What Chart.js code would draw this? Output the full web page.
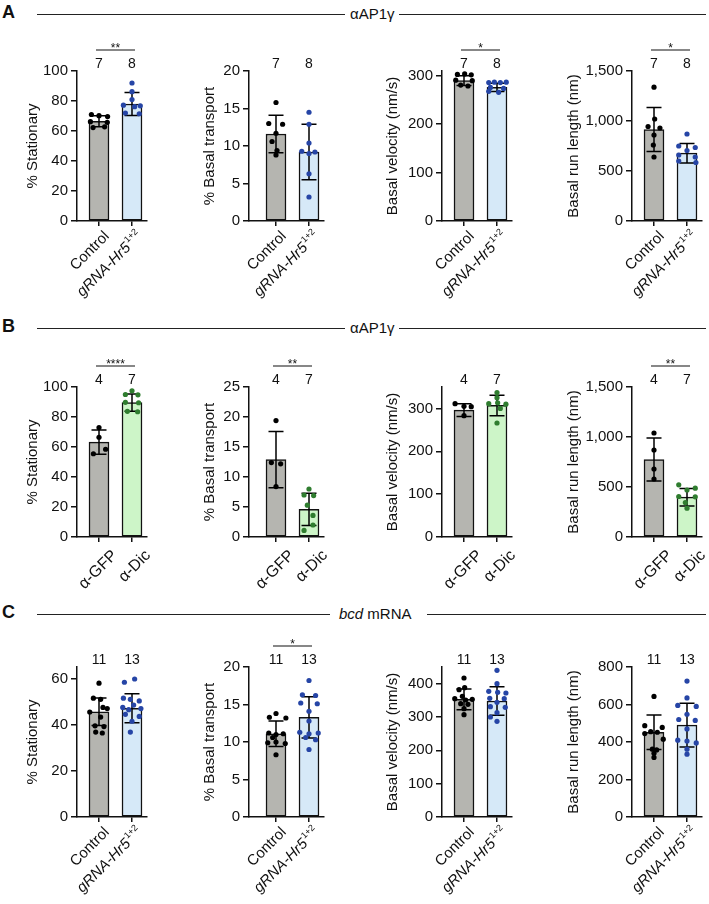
<!DOCTYPE html>
<html>
<head>
<meta charset="utf-8">
<script src="https://cdn.jsdelivr.net/npm/chart.js@4.4.1/dist/chart.umd.min.js"></script>
<style>
  body { margin: 0; width: 709px; height: 904px; position: relative; overflow: hidden; background: #fff;
         font-family: Arial, "Liberation Sans", Helvetica, sans-serif; color: #111; }
  canvas { position: absolute; }
  .letter { position: absolute; left: 2px; font-weight: bold; font-size: 18px; line-height: 20px; }
  .rule { position: absolute; height: 0; border-top: 1.4px solid #222; }
  .head { position: absolute; font-size: 15px; line-height: 18px; white-space: nowrap; }
</style>
</head>
<body>
<div class="letter" style="top:2px">A</div>
<div class="rule" style="left:37px;width:308px;top:14px"></div>
<div class="head" style="left:350px;top:5px">αAP1γ</div>
<div class="rule" style="left:399px;width:307px;top:14px"></div>

<div class="letter" style="top:316px">B</div>
<div class="rule" style="left:37px;width:308px;top:328px"></div>
<div class="head" style="left:350px;top:319px">αAP1γ</div>
<div class="rule" style="left:399px;width:307px;top:328px"></div>

<div class="letter" style="top:602px">C</div>
<div class="rule" style="left:37px;width:293px;top:614px"></div>
<div class="head" style="left:339px;top:605px"><i>bcd</i> mRNA</div>
<div class="rule" style="left:427px;width:279px;top:614px"></div>

<script>
// group labels and n per group
const geneLabels = ['Control', 'gRNA-Hr5'];
const geneSup = ['', '1+2'];
const abLabels = ['α-GFP', 'α-Dic'];
const abSup = ['', ''];
const nA = [7, 8];
const nB = [4, 7];
const nC = [11, 13];
const yTitles = ['% Stationary', '% Basal transport', 'Basal velocity (nm/s)', 'Basal run length (nm)'];

// y axis ticks
const ticksPct = [0, 20, 40, 60, 80, 100];
const ticksPctC = [0, 20, 40, 60];
const ticksBasal = [0, 5, 10, 15, 20];
const ticksBasalB = [0, 5, 10, 15, 20, 25];
const ticksVel = [0, 100, 200, 300];
const ticksVelC = [0, 100, 200, 300, 400];
const ticksRun = [0, 500, 1000, 1500];
const ticksRunC = [0, 200, 400, 600, 800];

// significance marks
const sigA = ['**', '', '*', '*'];
const sigB = ['****', '**', '', '**'];
const sigC = ['', '*', '', ''];

// mean / SD per group, points as [jitter, value]
const meanA1 = [66.5, 78], sdA1 = [3.6, 7.7];
const ptsA1c = [[-0.23, 71], [0.0, 70.2], [0.26, 69.6], [-0.26, 66.2], [0.25, 65.8], [-0.18, 62.3], [0.17, 62.8]];
const ptsA1t = [[0, 92], [0, 86.2], [0, 81], [-0.26, 77.2], [0.25, 76.8], [0.08, 76.2], [-0.2, 72], [0.22, 71.5]];

const meanA2 = [11.6, 9.2], sdA2 = [2.5, 3.7];
const ptsA2c = [[0, 15.8], [-0.22, 13], [0.2, 12.9], [0, 11.7], [-0.12, 10.6], [0.03, 9.4], [0, 8.8]];
const ptsA2t = [[0, 14.5], [0, 12.9], [0, 10.4], [-0.22, 9.3], [0.18, 9.2], [0, 9.0], [0, 6.3], [0, 3.2]];

const meanA3 = [290, 276], sdA3 = [10, 8.5];
const ptsA3c = [[-0.2, 303], [0.02, 304], [0.22, 302], [-0.25, 291], [0.25, 290], [-0.1, 281], [0.12, 279]];
const ptsA3t = [[-0.25, 286], [-0.08, 287], [0.1, 286], [0.28, 287], [-0.2, 276], [0.2, 274], [-0.25, 268], [0.05, 266]];

const meanA4 = [915, 678], sdA4 = [220, 97];
const ptsA4c = [[0, 1338], [0.02, 1020], [-0.18, 945], [0.18, 930], [0, 860], [-0.02, 760], [0, 640]];
const ptsA4t = [[0, 870], [-0.25, 750], [0.25, 735], [0, 705], [-0.25, 660], [0.25, 640], [-0.25, 600], [0.27, 585]];

const meanB1 = [63.2, 89.6], sdB1 = [8.1, 5.7];
const ptsB1c = [[0, 73], [0, 66.5], [0.2, 58.5], [-0.17, 55.5]];
const ptsB1t = [[0, 97.5], [-0.2, 95], [0.18, 94.8], [-0.2, 89.8], [0.2, 89.5], [-0.14, 83.8], [0.17, 83.5]];

const meanB2 = [12.9, 4.6], sdB2 = [4.7, 2.7];
const ptsB2c = [[0, 19.4], [-0.14, 12.4], [0.14, 12.2], [0, 8.4]];
const ptsB2t = [[0, 8], [-0.15, 7], [0.14, 6.9], [-0.05, 5.3], [0.12, 3.6], [0.12, 2.0], [-0.15, 1.1]];

const meanB3 = [296, 307], sdB3 = [15, 24];
const ptsB3c = [[-0.27, 311], [0, 305], [0.22, 304], [0, 283]];
const ptsB3t = [[0, 337], [0, 325], [-0.25, 311], [0.02, 313], [0.27, 310], [0.1, 300], [0, 266]];

const meanB4 = [775, 398], sdB4 = [215, 88];
const ptsB4c = [[0, 1040], [0, 870], [0, 680], [0, 580]];
const ptsB4t = [[-0.25, 522], [0.25, 488], [0, 470], [-0.25, 405], [0.25, 402], [-0.05, 345], [0, 288]];

const meanC1 = [45.6, 47.1], sdC1 = [6, 6.3];
const ptsC1c = [[0, 58], [-0.17, 51.5], [0.05, 51], [0.12, 47.5], [0.25, 47], [-0.28, 45.5], [0.05, 43.3], [-0.12, 39.5], [0.15, 39.2], [-0.1, 36.8], [0.1, 36.4]];
const ptsC1t = [[0.08, 59.8], [-0.23, 58.4], [-0.26, 51.5], [-0.05, 51], [0.22, 50.3], [0.05, 48.5], [-0.28, 47.5], [0.27, 47], [-0.1, 46.5], [-0.2, 44.5], [0.22, 43.6], [0, 41.5], [-0.05, 36.8]];

const meanC2 = [11.1, 13.3], sdC2 = [1.7, 2.75];
const ptsC2c = [[0, 13.8], [-0.2, 13.3], [0.3, 13.2], [-0.22, 11.2], [0, 11.0], [0.22, 11.1], [-0.25, 9.9], [0, 10.0], [0.28, 9.8], [0, 8.3], [-0.1, 10.6]];
const ptsC2t = [[0, 18.2], [-0.2, 16.3], [0.2, 16.2], [-0.25, 15.2], [0.25, 15.1], [0, 14.1], [0, 12.8], [-0.28, 11.3], [0.28, 11.2], [0, 11.1], [-0.1, 10.6], [0.2, 10.3], [0, 9.0]];

const meanC3 = [353, 348], sdC3 = [31, 43];
const ptsC3c = [[0, 417], [0.02, 388], [-0.15, 382], [-0.05, 362], [-0.28, 355], [0.25, 353], [0.05, 351], [-0.1, 340], [0.12, 338], [0, 325], [0, 307]];
const ptsC3t = [[0, 440], [0, 400], [-0.25, 377], [0.02, 374], [0.27, 372], [-0.22, 356], [0.22, 355], [0, 344], [-0.2, 331], [0.25, 329], [0, 313], [-0.2, 300], [0, 287]];

const meanC4 = [452, 490], sdC4 = [92, 117];
const ptsC4c = [[0, 643], [-0.28, 487], [0.25, 478], [-0.1, 455], [0.1, 452], [-0.28, 445], [0.28, 415], [-0.05, 362], [0.08, 358], [0, 340], [0, 318]];
const ptsC4t = [[0, 725], [0, 635], [-0.28, 595], [0.28, 590], [0, 548], [-0.25, 520], [0.25, 515], [0, 470], [-0.28, 410], [0, 405], [0.28, 395], [0, 362], [0, 335]];

// colours
const GRAY = '#b5b5b0';
const BLUE_BAR = '#d6e9f8', BLUE_DOT = '#2645a6';
const GREEN_BAR = '#cdf5c8', GREEN_DOT = '#2f7d2f';
const FONT = 'Arial, "Liberation Sans", Helvetica, sans-serif';

// [y-axis x, first bar centre, distance of y title from axis]
const colPos = [[77, 99, 44], [249, 276, 39], [442, 464, 49], [632, 654, 58]];

const panels = [
  { top: 71, n: nA, labels: geneLabels, sups: geneSup, sig: sigA, tint: BLUE_BAR, dot: BLUE_DOT,
    shiftX: 8, shiftY: 13, labelSize: 15,
    charts: [
      { mean: meanA1, sd: sdA1, c: ptsA1c, t: ptsA1t, max: 100, ticks: ticksPct },
      { mean: meanA2, sd: sdA2, c: ptsA2c, t: ptsA2t, max: 20, ticks: ticksBasal },
      { mean: meanA3, sd: sdA3, c: ptsA3c, t: ptsA3t, max: 310, ticks: ticksVel },
      { mean: meanA4, sd: sdA4, c: ptsA4c, t: ptsA4t, max: 1500, ticks: ticksRun }
    ] },
  { top: 387, n: nB, labels: abLabels, sups: abSup, sig: sigB, tint: GREEN_BAR, dot: GREEN_DOT,
    shiftX: 16, shiftY: 16, labelSize: 16,
    charts: [
      { mean: meanB1, sd: sdB1, c: ptsB1c, t: ptsB1t, max: 100, ticks: ticksPct },
      { mean: meanB2, sd: sdB2, c: ptsB2c, t: ptsB2t, max: 25, ticks: ticksBasalB },
      { mean: meanB3, sd: sdB3, c: ptsB3c, t: ptsB3t, max: 350, ticks: ticksVel },
      { mean: meanB4, sd: sdB4, c: ptsB4c, t: ptsB4t, max: 1500, ticks: ticksRun }
    ] },
  { top: 667, n: nC, labels: geneLabels, sups: geneSup, sig: sigC, tint: BLUE_BAR, dot: BLUE_DOT,
    shiftX: 8, shiftY: 13, labelSize: 15,
    charts: [
      { mean: meanC1, sd: sdC1, c: ptsC1c, t: ptsC1t, max: 65, ticks: ticksPctC },
      { mean: meanC2, sd: sdC2, c: ptsC2c, t: ptsC2t, max: 20, ticks: ticksBasal },
      { mean: meanC3, sd: sdC3, c: ptsC3c, t: ptsC3t, max: 450, ticks: ticksVelC },
      { mean: meanC4, sd: sdC4, c: ptsC4c, t: ptsC4t, max: 800, ticks: ticksRunC }
    ] }
];

const UNIT = 33, PAD_TOP = 45, AXIS_H = 150, XAXIS_H = 80, YAXIS_W = 75, PAD_R = 8;

function drawChart(panel, spec, col) {
  const [axisX, c0, titleDist] = colPos[col];
  const widthPx = c0 + UNIT + 15 - axisX;
  const xMin = -(c0 - axisX) / UNIT;
  const xMax = xMin + widthPx / UNIT;

  const cv = document.createElement('canvas');
  cv.width = YAXIS_W + widthPx + PAD_R;
  cv.height = PAD_TOP + AXIS_H + XAXIS_H;
  cv.style.left = (axisX - YAXIS_W) + 'px';
  cv.style.top = (panel.top - PAD_TOP) + 'px';
  document.body.appendChild(cv);

  const pts = spec.c.map(p => ({ x: p[0], y: p[1] }))
    .concat(spec.t.map(p => ({ x: 1 + p[0], y: p[1] })));
  const dotColors = spec.c.map(() => '#000').concat(spec.t.map(() => panel.dot));

  const marks = {
    id: 'marks',
    afterDatasetDraw(chart, args) {
      if (args.index !== 1) return; // error bars after the bars, under the dots
      const ctx = chart.ctx, xs = chart.scales.x, ys = chart.scales.y;
      ctx.save();
      ctx.strokeStyle = '#000';
      ctx.lineWidth = 1.5;
      spec.mean.forEach((m, i) => {
        const px = xs.getPixelForValue(i);
        const hi = ys.getPixelForValue(m + spec.sd[i]);
        const lo = ys.getPixelForValue(Math.max(0, m - spec.sd[i]));
        ctx.beginPath();
        ctx.moveTo(px, hi); ctx.lineTo(px, lo);
        ctx.moveTo(px - 7.5, hi); ctx.lineTo(px + 7.5, hi);
        ctx.moveTo(px - 7.5, lo); ctx.lineTo(px + 7.5, lo);
        ctx.stroke();
      });
      ctx.restore();
    },
    afterDraw(chart) {
      const ctx = chart.ctx, xs = chart.scales.x, area = chart.chartArea;
      const x0 = xs.getPixelForValue(0), x1 = xs.getPixelForValue(1);
      ctx.save();
      ctx.fillStyle = '#111';
      // n per group
      ctx.font = '14px ' + FONT;
      ctx.textAlign = 'center';
      ctx.textBaseline = 'middle';
      panel.n.forEach((n, i) => ctx.fillText(String(n), xs.getPixelForValue(i), area.top - 7));
      // significance bracket
      const sig = panel.sig[col];
      if (sig) {
        const by = area.top - 21;
        ctx.strokeStyle = '#111';
        ctx.lineWidth = 1.2;
        ctx.beginPath();
        ctx.moveTo(x0 - 3, by); ctx.lineTo(x1 + 3, by);
        ctx.stroke();
        ctx.font = '12px ' + FONT;
        ctx.textBaseline = 'alphabetic';
        ctx.fillText(sig, (x0 + x1) / 2, by + 2);
      }
      // rotated group labels
      const fs = panel.labelSize;
      panel.labels.forEach((lab, i) => {
        const sup = panel.sups[i];
        ctx.save();
        ctx.translate(xs.getPixelForValue(i) + panel.shiftX, area.bottom + panel.shiftY);
        ctx.rotate(-Math.PI / 4);
        ctx.textBaseline = 'middle';
        if (sup) {
          ctx.font = 'italic ' + fs + 'px ' + FONT;
          const wm = ctx.measureText(lab).width;
          ctx.font = '9px ' + FONT;
          const ws = ctx.measureText(sup).width;
          ctx.textAlign = 'left';
          ctx.font = 'italic ' + fs + 'px ' + FONT;
          ctx.fillText(lab, -wm - ws - 1, 0);
          ctx.font = '9px ' + FONT;
          ctx.fillText(sup, -ws, -5);
        } else {
          ctx.font = fs + 'px ' + FONT;
          ctx.textAlign = 'right';
          ctx.fillText(lab, 0, 0);
        }
        ctx.restore();
      });
      ctx.restore();
    }
  };

  const axisGrid = { drawOnChartArea: false, drawTicks: true, tickLength: 6, color: '#111', lineWidth: 1.5 };

  new Chart(cv, {
    type: 'bar',
    data: {
      datasets: [
        {
          type: 'scatter',
          data: pts,
          backgroundColor: dotColors,
          borderColor: dotColors,
          borderWidth: 0,
          pointRadius: 2.6
        },
        {
          type: 'bar',
          data: spec.mean.map((m, i) => ({ x: i, y: m })),
          backgroundColor: [GRAY, panel.tint],
          borderColor: '#111',
          borderWidth: 1.5,
          borderSkipped: false,
          barThickness: 20
        }
      ]
    },
    options: {
      responsive: false,
      animation: false,
      layout: { padding: { top: PAD_TOP, right: PAD_R, left: 0, bottom: 0 } },
      plugins: { legend: { display: false }, tooltip: { enabled: false } },
      scales: {
        x: {
          type: 'linear',
          min: xMin,
          max: xMax,
          offset: false,
          afterFit: s => { s.height = XAXIS_H; },
          afterBuildTicks: s => { s.ticks = [{ value: 0 }, { value: 1 }]; },
          ticks: { callback: () => '' },
          grid: Object.assign({ offset: false }, axisGrid, { tickLength: 5 }),
          border: { color: '#111', width: 1.5 }
        },
        y: {
          min: 0,
          max: spec.max,
          afterFit: s => { s.width = YAXIS_W; },
          afterBuildTicks: s => { s.ticks = spec.ticks.map(v => ({ value: v })); },
          ticks: {
            font: { size: 15, family: FONT },
            color: '#111',
            padding: 3,
            callback: v => v.toLocaleString('en-US')
          },
          grid: axisGrid,
          border: { color: '#111', width: 1.5 },
          title: {
            display: true,
            text: yTitles[col],
            color: '#111',
            font: { size: 15, family: FONT },
            padding: { top: YAXIS_W - titleDist - 9, bottom: 0 }
          }
        }
      }
    },
    plugins: [marks]
  });
}

panels.forEach(panel => panel.charts.forEach((spec, col) => drawChart(panel, spec, col)));
</script>
</body>
</html>
